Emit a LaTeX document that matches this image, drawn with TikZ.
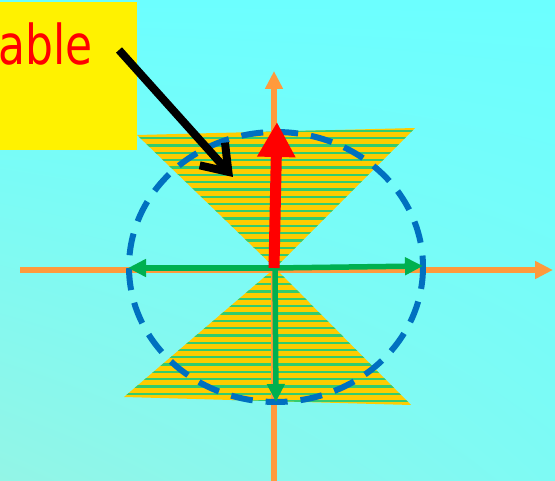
\documentclass[tikz,border=0pt]{standalone}
\usepackage{fontspec}
\newfontfamily\notefont[FakeStretch=0.8]{DejaVu Sans}
\usetikzlibrary{arrows.meta,shadings}
\definecolor{skyhi}{HTML}{6CFFFF}
\definecolor{skylo}{HTML}{93F5E6}
\definecolor{skymid}{HTML}{7EFAF4}
\definecolor{amber}{HTML}{FF9A3C}
\definecolor{dashblue}{HTML}{0070C0}
\definecolor{leaf}{HTML}{00B050}
\definecolor{gold}{HTML}{FFCC00}
\definecolor{leafline}{HTML}{33CC6E}
\tikzset{
  axis/.style={draw=amber,line width=6pt,-{Triangle[length=18pt,width=17pt]}},
  ring/.style={draw=dashblue,line width=6pt,dash pattern=on 22pt off 13pt},
  vec/.style={draw=leaf,line width=5.5pt,-{Triangle[length=18pt,width=17pt]}},
  spin/.style={draw=red,line width=11pt,-{Triangle[length=35pt,width=36pt]}},
  pointer/.style={draw=black,line width=8pt,-{Straight Barb[length=24pt,width=34pt]}},
  stripe/.style={draw=leafline,line width=2.3pt},
  notebox/.style={fill=yellow,inner sep=0pt,minimum width=137pt,minimum height=148pt},
  notetext/.style={text=red,font=\notefont\fontsize{55}{60}\selectfont,inner sep=0pt},
}
\begin{document}
\begin{tikzpicture}[x=1pt,y=-1pt]
  \useasboundingbox (0,0) rectangle (555,481);
  \shade[upper left=skyhi,upper right=skyhi,lower right=skymid,lower left=skylo] (0,0) rectangle (555,481);
  \coordinate (O) at (275,268);
  \begin{scope}
    \clip (137,135) -- (415,128) -- (O) -- cycle (124,397) -- (411,405) -- (O) -- cycle;
    \fill[gold] (120,120) rectangle (420,410);
    \foreach \y in {131,138.3,...,410} \draw[stripe] (120,\y) -- (420,\y);
  \end{scope}
  \coordinate (west) at (20,270);
  \coordinate (east) at (553,270);
  \coordinate (south) at (274,481);
  \coordinate (north) at (274,71);
  \draw[axis] (west) -- (east);
  \draw[axis] (south) -- (north);
  \draw[ring] (276,267) ellipse [x radius=147,y radius=135];
  \coordinate (left) at (128,268);
  \coordinate (right) at (423,266);
  \coordinate (down) at (276,402);
  \coordinate (up) at (277,122);
  \draw[vec] (O) -- (left);
  \draw[vec] (O) -- (right);
  \draw[vec] (O) -- (down);
  \draw[spin] (274,268) -- (up);
  \node[notebox,anchor=north west] (note) at (0,2) {};
  \node[notetext,anchor=base west] (word) at (-2,65) {able};
  \coordinate (tail) at (119,50);
  \coordinate (cone) at (233,177);
  \draw[pointer] (tail) -- (cone);
\end{tikzpicture}
\end{document}
